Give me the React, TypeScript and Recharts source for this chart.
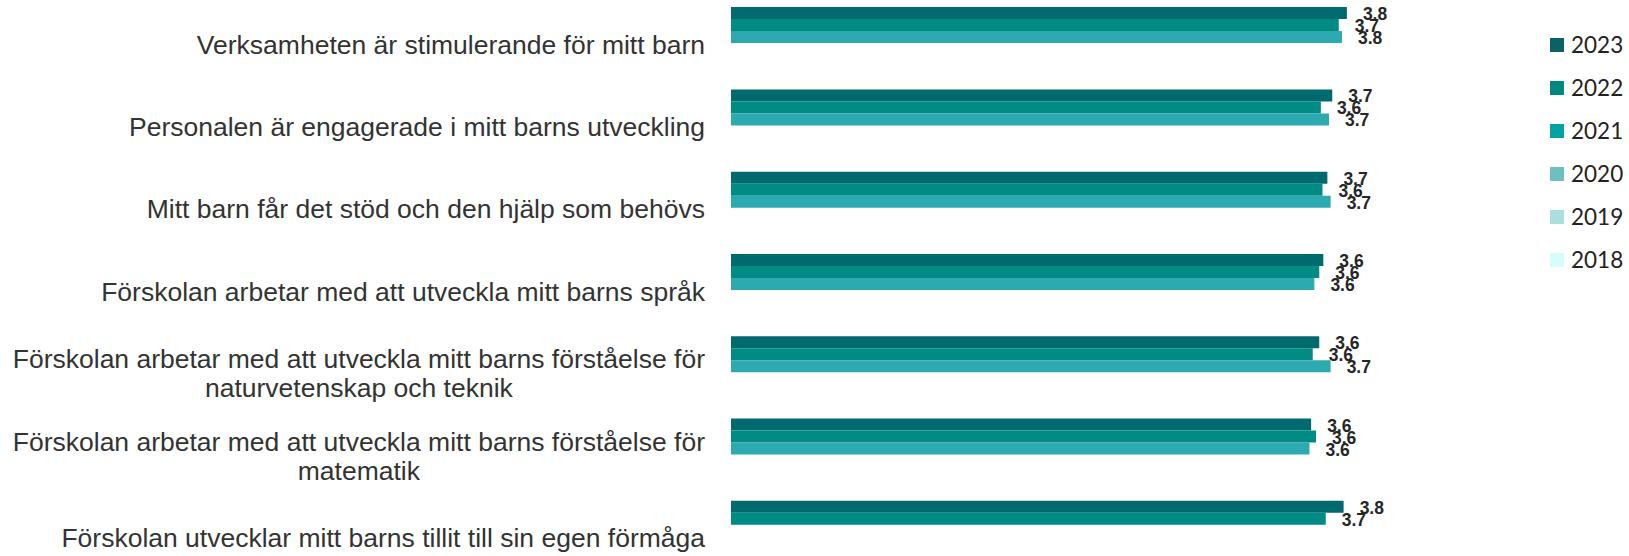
import { Bar, BarChart, LabelList, Legend, XAxis, YAxis } from "recharts";

const categories = [
  "Verksamheten är stimulerande för mitt barn",
  "Personalen är engagerade i mitt barns utveckling",
  "Mitt barn får det stöd och den hjälp som behövs",
  "Förskolan arbetar med att utveckla mitt barns språk",
  "Förskolan arbetar med att utveckla mitt barns förståelse för naturvetenskap och teknik",
  "Förskolan arbetar med att utveckla mitt barns förståelse för matematik",
  "Förskolan utvecklar mitt barns tillit till sin egen förmåga",
];

const years = ["2023", "2022", "2021", "2020", "2019", "2018"];

const v2023 = [3.79, 3.7, 3.67, 3.645, 3.62, 3.57, 3.77];
const v2022 = [3.74, 3.63, 3.64, 3.62, 3.58, 3.6, 3.66];
const v2021 = [3.76, 3.68, 3.69, 3.59, 3.69, 3.56, null];
const v2020 = [null, null, null, null, null, null, null];
const v2019 = [null, null, null, null, null, null, null];
const v2018 = [null, null, null, null, null, null, null];

const barColors = ["#006a6e", "#008b84", "#2da9b0", "#72bfc1", "#abdfdf", "#d6fcfc"];
const swatchColors = ["#0b6264", "#00877e", "#00a2a2", "#70bfc0", "#abdfdf", "#d4fdfc"];

const rows = categories.map((name, i) => ({
  name,
  y2023: v2023[i],
  y2022: v2022[i],
  y2021: v2021[i],
  y2020: v2020[i],
  y2019: v2019[i],
  y2018: v2018[i],
}));

const LABEL_FONT = 26.5;
const LABEL_RIGHT = 705;
const LINE_H = 29;
const catFont = `${LABEL_FONT}px "Liberation Sans", Arial, sans-serif`;

const ctx = typeof document !== "undefined" ? document.createElement("canvas").getContext("2d") : null;
function textWidth(s: string) {
  if (!ctx) return s.length * LABEL_FONT * 0.5;
  ctx.font = catFont;
  return ctx.measureText(s).width;
}

// greedy word wrap, like the office chart does for long category names
function wrap(text: string, maxW: number) {
  const words = text.split(" ");
  const lines: string[] = [];
  let cur = "";
  for (const w of words) {
    const next = cur ? cur + " " + w : w;
    if (cur && textWidth(next) > maxW) {
      lines.push(cur);
      cur = w;
    } else cur = next;
  }
  if (cur) lines.push(cur);
  return lines;
}

function CategoryTick(props: any) {
  const { y, payload } = props;
  const lines = wrap(String(payload.value), 705);
  const blockW = Math.max(...lines.map(textWidth));
  const cx = LABEL_RIGHT - blockW / 2;
  const first = y - ((lines.length - 1) * LINE_H) / 2 + LABEL_FONT * 0.36;
  return (
    <text textAnchor="middle" fill="#333" fontSize={LABEL_FONT} fontFamily='"Liberation Sans", Arial, sans-serif'>
      {lines.map((l, i) => (
        <tspan key={i} x={cx} y={first + i * LINE_H}>
          {l}
        </tspan>
      ))}
    </text>
  );
}

function ValueLabel(props: any) {
  const { x, y, width, height, value } = props;
  if (value == null) return null;
  return (
    <text
      x={x + width + 16}
      y={y + height / 2 + 1}
      dominantBaseline="central"
      fill="#262626"
      fontSize={17.5}
      fontWeight="bold"
      fontFamily='"Liberation Sans", Arial, sans-serif'
    >
      {Number(value).toFixed(1)}
    </text>
  );
}

function LegendList({ payload }: any) {
  const items = [...(payload ?? [])].sort(
    (a: any, b: any) => years.indexOf(String(a.value)) - years.indexOf(String(b.value))
  );
  return (
    <div style={{ fontFamily: "Lato, sans-serif", fontSize: 22.5, color: "#222" }}>
      {items.map((p: any) => (
        <div key={p.value} style={{ display: "flex", alignItems: "center", height: 43 }}>
          <span
            style={{
              display: "inline-block",
              width: 14,
              height: 14,
              marginRight: 7,
              background: swatchColors[years.indexOf(String(p.value))] ?? p.color,
            }}
          />
          <span>{p.value}</span>
        </div>
      ))}
    </div>
  );
}

export default function App() {
  return (
    <div style={{ position: "absolute", left: 0, top: 0, width: 1629, height: 556, overflow: "hidden", background: "#fff" }}>
      <BarChart
        width={1629}
        height={585}
        data={rows}
        layout="vertical"
        margin={{ top: 3, right: 248, bottom: 6, left: 0 }}
        barCategoryGap="5%"
        barGap={0}
      >
        <XAxis type="number" domain={[0, 4]} hide />
        <YAxis type="category" dataKey="name" width={731} axisLine={false} tickLine={false} interval={0} tick={CategoryTick} />
        <Legend
          layout="vertical"
          align="center"
          verticalAlign="middle"
          content={LegendList}
          wrapperStyle={{ left: 1550, top: 23, width: 80 }}
        />
        {years.map((yr, i) => (
          <Bar key={yr} dataKey={`y${yr}`} name={yr} fill={barColors[i]} isAnimationActive={false}>
            {i < 3 && <LabelList dataKey={`y${yr}`} content={ValueLabel} />}
          </Bar>
        ))}
      </BarChart>
    </div>
  );
}
